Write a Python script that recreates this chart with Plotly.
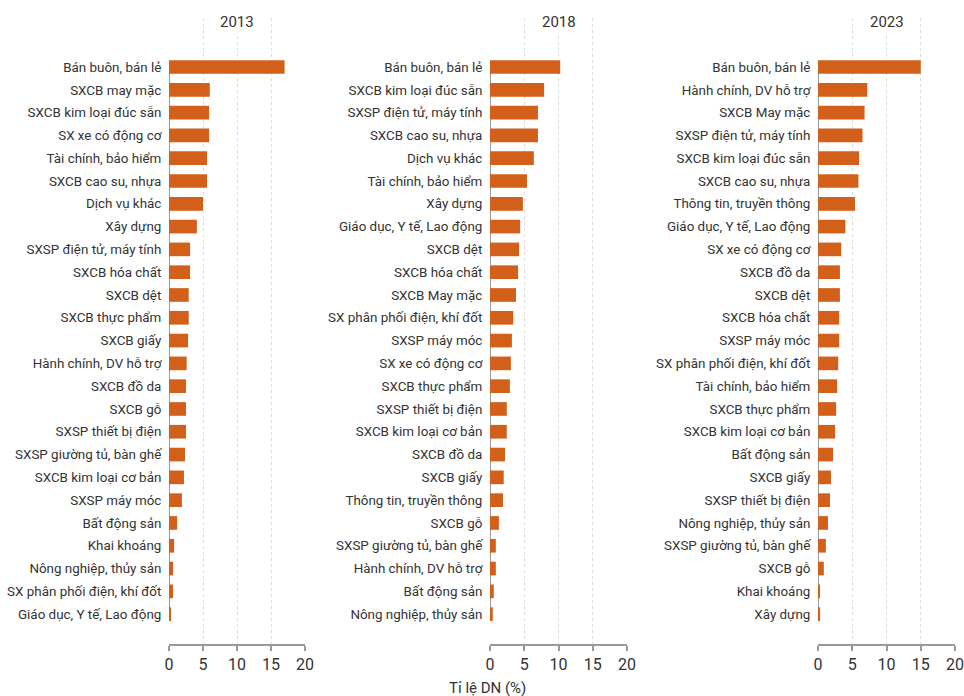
import plotly.graph_objects as go

# --- data: share of enterprises (%) by sector, one ranked list per year ---
years = ["2013", "2018", "2023"]

sectors_2013 = [
    "Bán buôn, bán lẻ", "SXCB may mặc", "SXCB kim loại đúc sẵn", "SX xe có động cơ",
    "Tài chính, bảo hiểm", "SXCB cao su, nhựa", "Dịch vụ khác", "Xây dựng",
    "SXSP điện tử, máy tính", "SXCB hóa chất", "SXCB dệt", "SXCB thực phẩm",
    "SXCB giấy", "Hành chính, DV hỗ trợ", "SXCB đồ da", "SXCB gỗ",
    "SXSP thiết bị điện", "SXSP giường tủ, bàn ghế", "SXCB kim loại cơ bản",
    "SXSP máy móc", "Bất động sản", "Khai khoáng", "Nông nghiệp, thủy sản",
    "SX phân phối điện, khí đốt", "Giáo dục, Y tế, Lao động",
]
values_2013 = [17.0, 6.0, 5.9, 5.9, 5.6, 5.6, 5.0, 4.1, 3.1, 3.1, 2.9, 2.9, 2.8,
               2.6, 2.5, 2.5, 2.5, 2.35, 2.2, 1.9, 1.2, 0.75, 0.6, 0.6, 0.3]

sectors_2018 = [
    "Bán buôn, bán lẻ", "SXCB kim loại đúc sẵn", "SXSP điện tử, máy tính",
    "SXCB cao su, nhựa", "Dịch vụ khác", "Tài chính, bảo hiểm", "Xây dựng",
    "Giáo dục, Y tế, Lao động", "SXCB dệt", "SXCB hóa chất", "SXCB May mặc",
    "SX phân phối điện, khí đốt", "SXSP máy móc", "SX xe có động cơ",
    "SXCB thực phẩm", "SXSP thiết bị điện", "SXCB kim loại cơ bản", "SXCB đồ da",
    "SXCB giấy", "Thông tin, truyền thông", "SXCB gỗ", "SXSP giường tủ, bàn ghế",
    "Hành chính, DV hỗ trợ", "Bất động sản", "Nông nghiệp, thủy sản",
]
values_2018 = [10.25, 7.9, 7.0, 7.0, 6.4, 5.4, 4.8, 4.4, 4.25, 4.1, 3.8, 3.4, 3.2,
               3.05, 2.9, 2.45, 2.45, 2.2, 2.0, 1.9, 1.3, 0.85, 0.85, 0.55, 0.4]

sectors_2023 = [
    "Bán buôn, bán lẻ", "Hành chính, DV hỗ trợ", "SXCB May mặc",
    "SXSP điện tử, máy tính", "SXCB kim loại đúc sẵn", "SXCB cao su, nhựa",
    "Thông tin, truyền thông", "Giáo dục, Y tế, Lao động", "SX xe có động cơ",
    "SXCB đồ da", "SXCB dệt", "SXCB hóa chất", "SXSP máy móc",
    "SX phân phối điện, khí đốt", "Tài chính, bảo hiểm", "SXCB thực phẩm",
    "SXCB kim loại cơ bản", "Bất động sản", "SXCB giấy", "SXSP thiết bị điện",
    "Nông nghiệp, thủy sản", "SXSP giường tủ, bàn ghế", "SXCB gỗ", "Khai khoáng",
    "Xây dựng",
]
values_2023 = [15.0, 7.2, 6.8, 6.5, 6.0, 5.9, 5.4, 4.0, 3.4, 3.2, 3.2, 3.1, 3.1,
               2.95, 2.8, 2.65, 2.5, 2.2, 1.9, 1.75, 1.45, 1.15, 0.85, 0.3, 0.3]

x_ticks = [0, 5, 10, 15, 20]
axis_title = "Tỉ lệ DN (%)"

# --- styling ---
W, H = 964, 696
BAR = "#d2601a"
TXT = "#333333"
AXIS = "#9a9a9a"
GRID = "#dcdcdc"
FONT = "Roboto, sans-serif"

# panel placement in pixels (left, right) for the value axis
panels_px = [(169, 305), (490, 627), (818, 955)]
plot_top_px, plot_bottom_px = 18, 644

panels = [(sectors_2013, values_2013), (sectors_2018, values_2018), (sectors_2023, values_2023)]

fig = go.Figure()
layout = dict(
    width=W, height=H,
    margin=dict(l=0, r=0, t=0, b=0),
    paper_bgcolor="white", plot_bgcolor="white",
    showlegend=False,
    font=dict(family=FONT, color=TXT, size=14),
    bargap=0.4,
)

annotations = []
shapes = []
ydom = [1 - plot_bottom_px / H, 1 - plot_top_px / H]

for k, ((cats, vals), year, (x0, x1)) in enumerate(zip(panels, years, panels_px)):
    sfx = "" if k == 0 else str(k + 1)
    fig.add_trace(go.Bar(
        x=vals, y=cats, orientation="h",
        marker=dict(color=BAR, line=dict(width=0)),
        xaxis="x" + sfx, yaxis="y" + sfx,
        hovertemplate="%{y}: %{x}%<extra></extra>",
    ))
    n = len(cats)
    layout["xaxis" + sfx] = dict(
        domain=[x0 / W, x1 / W], anchor="y" + sfx,
        range=[0, 20], tickvals=x_ticks,
        showgrid=True, gridcolor=GRID, griddash="dot", gridwidth=1,
        zeroline=False, automargin=False,
        showline=True, linecolor=AXIS, linewidth=1.5,
        ticks="outside", ticklen=5, tickcolor=AXIS, tickwidth=1.5,
        tickfont=dict(size=16, color=TXT),
        fixedrange=True,
    )
    layout["yaxis" + sfx] = dict(
        domain=ydom, anchor="x" + sfx,
        type="category", categoryorder="array", categoryarray=cats,
        range=[n + 0.31, -2.15],
        showgrid=False, zeroline=False, showline=False, automargin=False,
        ticks="outside", ticklen=4, tickcolor="rgba(0,0,0,0)",
        tickfont=dict(size=13.4, color=TXT),
        fixedrange=True,
    )
    # vertical baseline spanning the ranked categories
    shapes.append(dict(
        type="line", xref="x" + sfx, yref="y" + sfx,
        x0=0, x1=0, y0=cats[0], y1=cats[-1],
        line=dict(color=AXIS, width=2), layer="below",
    ))
    # year heading above each panel
    annotations.append(dict(
        text=year, xref="paper", yref="paper",
        x=(x0 + x1) / 2 / W, y=1 - 22 / H,
        xanchor="center", yanchor="middle", showarrow=False,
        font=dict(size=15, color=TXT), bgcolor="white", borderpad=2,
    ))

annotations.append(dict(
    text=axis_title, xref="paper", yref="paper",
    x=487 / W, y=1 - 688 / H, xanchor="center", yanchor="middle",
    showarrow=False, font=dict(size=15, color=TXT),
))

layout["annotations"] = annotations
layout["shapes"] = shapes
fig.update_layout(**layout)

fig.write_html("out.html")
